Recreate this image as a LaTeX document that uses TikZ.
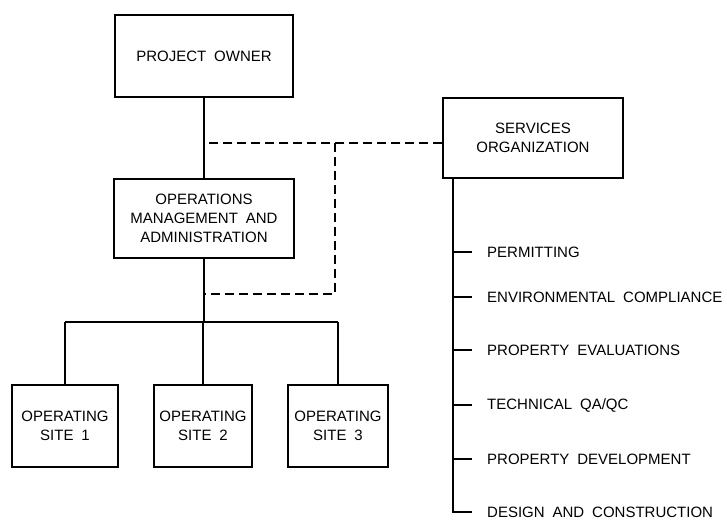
\documentclass[tikz,border=0pt]{standalone}
\usepackage{fontspec}
\setmainfont{Liberation Sans}[WordSpace=1.9]
\begin{document}
\begin{tikzpicture}[x=1pt,y=-1pt,
  every node/.style={font=\fontsize{15}{19}\selectfont},
  box/.style={draw,line width=1.3pt,align=center,inner sep=0pt},
  conn/.style={line width=1.2pt},
  dconn/.style={line width=1.2pt,dash pattern=on 9pt off 5pt},
  item/.style={anchor=west,inner sep=0pt}]
\useasboundingbox (0,0) rectangle (727,520);
\node[box,minimum width=178pt,minimum height=82pt] (owner) at (204,56) {PROJECT OWNER};
\node[box,minimum width=180pt,minimum height=80pt] (svc) at (533,138) {SERVICES\\ORGANIZATION};
\node[box,minimum width=180pt,minimum height=79pt] (ops) at (204,218.5) {OPERATIONS\\MANAGEMENT AND\\ADMINISTRATION};
\node[box,minimum width=106pt,minimum height=82pt] (s1) at (65,426) {OPERATING\\SITE 1};
\node[box,minimum width=98pt,minimum height=82pt] (s2) at (203,426) {OPERATING\\SITE 2};
\node[box,minimum width=100pt,minimum height=82pt] (s3) at (338,426) {OPERATING\\SITE 3};
% hierarchy
\draw[conn] (owner.south) -- (ops.north);
\coordinate (bus) at (204,322);
\draw[conn] (ops.south) -- (bus);
\draw[conn] (s1.north |- bus) -- (s3.north |- bus);
\draw[conn] (s1.north |- bus) -- (s1.north);
\draw[conn] (s2.north |- bus) -- (s2.north);
\draw[conn] (s3.north |- bus) -- (s3.north);
% dashed links
\coordinate (d1) at (204,143);
\coordinate (d2) at (335,143);
\coordinate (d3) at (335,294);
\coordinate (d4) at (204,294);
\draw[dconn] (d1 -| svc.west) -- (d1);
\draw[dconn] (d2) -- (d3) -- (d4);
% services list
\node[item] (i1) at (487,252) {PERMITTING};
\node[item] (i2) at (487,297) {ENVIRONMENTAL COMPLIANCE};
\node[item] (i3) at (487,350) {PROPERTY EVALUATIONS};
\node[item] (i4) at (487,405) {TECHNICAL QA/QC};
\node[item] (i5) at (487,459) {PROPERTY DEVELOPMENT};
\node[item] (i6) at (487,512) {DESIGN AND CONSTRUCTION};
\coordinate (t0) at (453,178);
\draw[conn] (t0) -- (t0 |- i6.west) -- (472,512);
\foreach \n in {i1,i2,i3,i4,i5}
  \draw[conn] (t0 |- \n.west) -- (472,0 |- \n.west);
\end{tikzpicture}
\end{document}
